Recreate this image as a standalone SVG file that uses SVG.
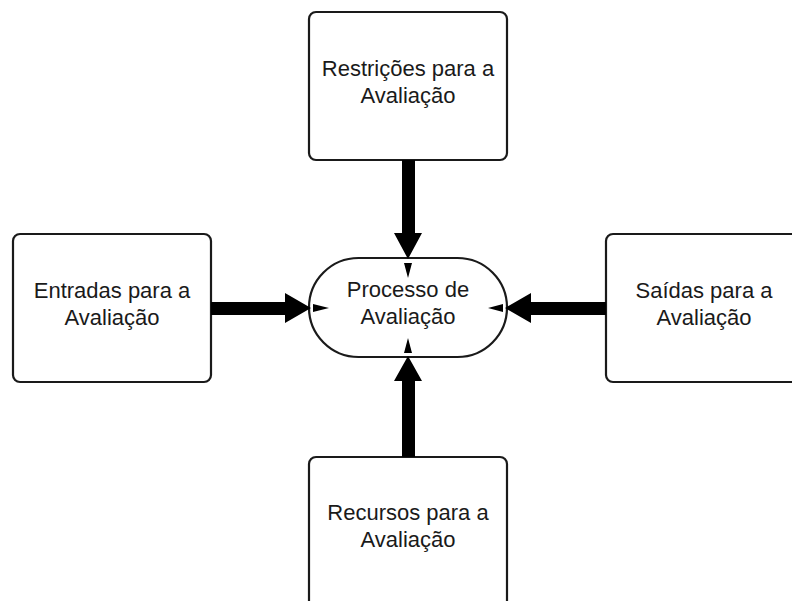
<svg xmlns="http://www.w3.org/2000/svg" width="792" height="601" viewBox="0 0 792 601">
<style>
.box{fill:#fff;stroke:#1a1a1a;stroke-width:2.2}
.t{font-family:"Liberation Sans",Arial,sans-serif;font-size:22px;fill:#1a1a1a;text-anchor:middle}
.ar{fill:#000}
</style>
<rect width="792" height="601" fill="#fff"/>
<g id="n-restricoes">
<rect class="box" x="309" y="12" width="198" height="148" rx="7"/>
<text class="t" x="408" y="76">Restrições para a</text>
<text class="t" x="408" y="103">Avaliação</text>
</g>
<g id="n-entradas">
<rect class="box" x="13" y="234" width="198" height="148" rx="7"/>
<text class="t" x="112" y="298">Entradas para a</text>
<text class="t" x="112" y="325">Avaliação</text>
</g>
<g id="n-saidas">
<rect class="box" x="606" y="234" width="198" height="148" rx="7"/>
<text class="t" x="704" y="298">Saídas para a</text>
<text class="t" x="704" y="325">Avaliação</text>
</g>
<g id="n-recursos">
<rect class="box" x="309" y="457" width="198" height="160" rx="7"/>
<text class="t" x="408" y="520">Recursos para a</text>
<text class="t" x="408" y="547">Avaliação</text>
</g>
<g id="n-processo">
<rect class="box" x="309" y="258" width="198" height="99" rx="49.5"/>
<text class="t" x="408" y="297">Processo de</text>
<text class="t" x="408" y="324">Avaliação</text>
</g>
<g id="connectors">
<polygon class="ar" points="402,160 415,160 415,233 422,233 408,259 394,233 402,233"/>
<polygon class="ar" points="404,263 412,263 408,278"/>
<polygon class="ar" points="211,302 285,302 285,293 311,308 285,323 285,315 211,315"/>
<polygon class="ar" points="313,304 313,312 329,308"/>
<polygon class="ar" points="606,302 531,302 531,293 505,308 531,323 531,315 606,315"/>
<polygon class="ar" points="503,304 503,312 488,308"/>
<polygon class="ar" points="402,457 415,457 415,381 422,381 408,356 394,381 402,381"/>
<polygon class="ar" points="404,353 412,353 408,338"/>
</g>
</svg>
